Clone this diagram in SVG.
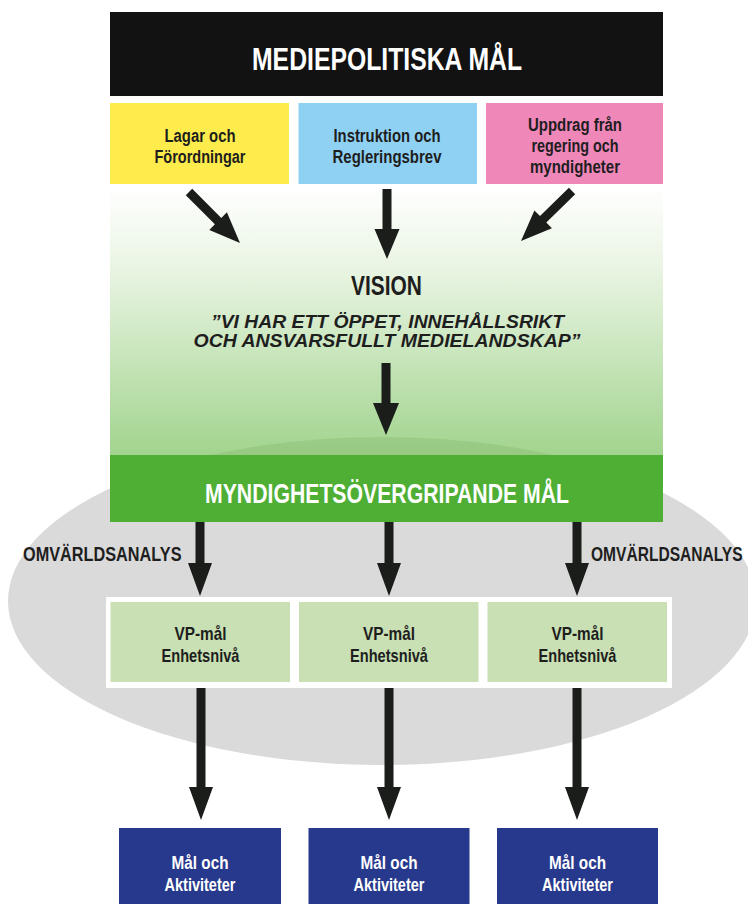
<svg xmlns="http://www.w3.org/2000/svg" width="748" height="904" viewBox="0 0 748 904">
<defs>
<linearGradient id="visionGrad" x1="0" y1="185" x2="0" y2="455" gradientUnits="userSpaceOnUse">
<stop offset="0" stop-color="#ffffff"/>
<stop offset="0.3" stop-color="#eaf5e4"/>
<stop offset="1" stop-color="#a2d48e"/>
</linearGradient>
<clipPath id="visionClip"><rect x="110" y="184" width="553" height="271"/></clipPath>
<style>
.lbl{font-family:"Liberation Sans",Arial,sans-serif;font-weight:bold;text-anchor:middle}
.start{text-anchor:start}
.dark{fill:#1e1e1e}
.white{fill:#ffffff}
.arrow{fill:#1b1d1a}
</style>
</defs>
<rect x="0" y="0" width="748" height="904" fill="#ffffff"/>

<g id="ellipse-bg">
<ellipse cx="382" cy="601" rx="374" ry="164" fill="#dadada"/>
</g>

<g id="mediepolitiska-mal">
<rect x="110" y="12" width="553" height="84" fill="#121212"/>
<text class="lbl white" x="387" y="70" font-size="32" textLength="270" lengthAdjust="spacingAndGlyphs">MEDIEPOLITISKA MÅL</text>
</g>

<g id="lagar">
<rect x="110" y="103" width="179" height="81" fill="#fdec4b"/>
<text class="lbl dark" x="200" y="142" font-size="17.5" textLength="71" lengthAdjust="spacingAndGlyphs">Lagar och</text>
<text class="lbl dark" x="200" y="163" font-size="17.5" textLength="91" lengthAdjust="spacingAndGlyphs">Förordningar</text>
</g>

<g id="instruktion">
<rect x="298.5" y="103" width="178.5" height="81" fill="#8fd1f3"/>
<text class="lbl dark" x="387" y="142" font-size="17.5" textLength="107" lengthAdjust="spacingAndGlyphs">Instruktion och</text>
<text class="lbl dark" x="387" y="163" font-size="17.5" textLength="109" lengthAdjust="spacingAndGlyphs">Regleringsbrev</text>
</g>

<g id="uppdrag">
<rect x="486" y="103" width="177" height="81" fill="#ef87b9"/>
<text class="lbl dark" x="575" y="131" font-size="17.5" textLength="94" lengthAdjust="spacingAndGlyphs">Uppdrag från</text>
<text class="lbl dark" x="575" y="152" font-size="17.5" textLength="87" lengthAdjust="spacingAndGlyphs">regering och</text>
<text class="lbl dark" x="575" y="173" font-size="17.5" textLength="90" lengthAdjust="spacingAndGlyphs">myndigheter</text>
</g>

<g id="vision">
<rect x="110" y="184" width="553" height="271" fill="url(#visionGrad)"/>
<ellipse cx="382" cy="601" rx="374" ry="164" fill="#3f7a2c" fill-opacity="0.12" clip-path="url(#visionClip)"/>
<text class="lbl dark" x="386.5" y="295" font-size="27" textLength="71" lengthAdjust="spacingAndGlyphs">VISION</text>
<text class="lbl dark" x="387.5" y="328" font-size="18.5" font-style="italic" textLength="353" lengthAdjust="spacingAndGlyphs">”VI HAR ETT ÖPPET, INNEHÅLLSRIKT</text>
<text class="lbl dark" x="387" y="347" font-size="18.5" font-style="italic" textLength="387" lengthAdjust="spacingAndGlyphs">OCH ANSVARSFULLT MEDIELANDSKAP”</text>
</g>

<g id="myndighetsovergripande">
<rect x="110" y="455" width="553" height="67" fill="#4eaf34"/>
<text class="lbl white" x="387" y="503" font-size="28" textLength="364" lengthAdjust="spacingAndGlyphs">MYNDIGHETSÖVERGRIPANDE MÅL</text>
</g>

<g id="omvarldsanalys-labels">
<text class="lbl dark start" transform="translate(23 561) scale(0.794 1)" x="0" y="0" font-size="20.5">OMVÄRLDSANALYS</text>
<text class="lbl dark start" transform="translate(591 561) scale(0.76 1)" x="0" y="0" font-size="20.5">OMVÄRLDSANALYS</text>
</g>

<g id="vp-frame">
<rect x="106" y="597" width="566" height="91" fill="#ffffff"/>
</g>
<g id="vp-1">
<rect x="110.5" y="602" width="179.5" height="80" fill="#c8e0b3"/>
<text class="lbl dark" x="200.5" y="640" font-size="18.5" textLength="52" lengthAdjust="spacingAndGlyphs">VP-mål</text>
<text class="lbl dark" x="200.5" y="662" font-size="18.5" textLength="78" lengthAdjust="spacingAndGlyphs">Enhetsnivå</text>
</g>
<g id="vp-2">
<rect x="299" y="602" width="179.5" height="80" fill="#c8e0b3"/>
<text class="lbl dark" x="389" y="640" font-size="18.5" textLength="52" lengthAdjust="spacingAndGlyphs">VP-mål</text>
<text class="lbl dark" x="389" y="662" font-size="18.5" textLength="78" lengthAdjust="spacingAndGlyphs">Enhetsnivå</text>
</g>
<g id="vp-3">
<rect x="487.5" y="602" width="179.5" height="80" fill="#c8e0b3"/>
<text class="lbl dark" x="577.5" y="640" font-size="18.5" textLength="52" lengthAdjust="spacingAndGlyphs">VP-mål</text>
<text class="lbl dark" x="577.5" y="662" font-size="18.5" textLength="78" lengthAdjust="spacingAndGlyphs">Enhetsnivå</text>
</g>

<g id="aktiviteter-1">
<rect x="119" y="828" width="162" height="76" fill="#27398c"/>
<text class="lbl white" x="200" y="869" font-size="18.5" textLength="57" lengthAdjust="spacingAndGlyphs">Mål och</text>
<text class="lbl white" x="200" y="891" font-size="18.5" textLength="71" lengthAdjust="spacingAndGlyphs">Aktiviteter</text>
</g>
<g id="aktiviteter-2">
<rect x="308.5" y="828" width="161" height="76" fill="#27398c"/>
<text class="lbl white" x="389" y="869" font-size="18.5" textLength="57" lengthAdjust="spacingAndGlyphs">Mål och</text>
<text class="lbl white" x="389" y="891" font-size="18.5" textLength="71" lengthAdjust="spacingAndGlyphs">Aktiviteter</text>
</g>
<g id="aktiviteter-3">
<rect x="497" y="828" width="161" height="76" fill="#27398c"/>
<text class="lbl white" x="577.5" y="869" font-size="18.5" textLength="57" lengthAdjust="spacingAndGlyphs">Mål och</text>
<text class="lbl white" x="577.5" y="891" font-size="18.5" textLength="71" lengthAdjust="spacingAndGlyphs">Aktiviteter</text>
</g>

<g id="connectors">
<polygon class="arrow" points="192.2,188.8 221.3,217.9 226.9,212.3 240,243 209.3,229.9 214.9,224.3 185.8,195.2"/>
<polygon class="arrow" points="382.5,189 391.5,189 391.5,229 399.5,229 387,259 374.5,229 382.5,229"/>
<polygon class="arrow" points="568.9,187.8 540,216.1 534.4,210.4 521,241 551.9,228.2 546.3,222.5 575.2,194.2"/>
<polygon class="arrow" points="381.5,363 390.5,363 390.5,403 399,403 386,435 373,403 381.5,403"/>
<polygon class="arrow" points="195.5,522 204.5,522 204.5,563 212,563 200,596 188,563 195.5,563"/>
<polygon class="arrow" points="384.5,522 393.5,522 393.5,563 401,563 389,596 377,563 384.5,563"/>
<polygon class="arrow" points="572.5,522 581.5,522 581.5,563 589,563 577,596 565,563 572.5,563"/>
<polygon class="arrow" points="196.5,688 205.5,688 205.5,787 213,787 201,820 189,787 196.5,787"/>
<polygon class="arrow" points="384.5,688 393.5,688 393.5,787 401,787 389,820 377,787 384.5,787"/>
<polygon class="arrow" points="572.5,688 581.5,688 581.5,787 589,787 577,820 565,787 572.5,787"/>
</g>
</svg>
